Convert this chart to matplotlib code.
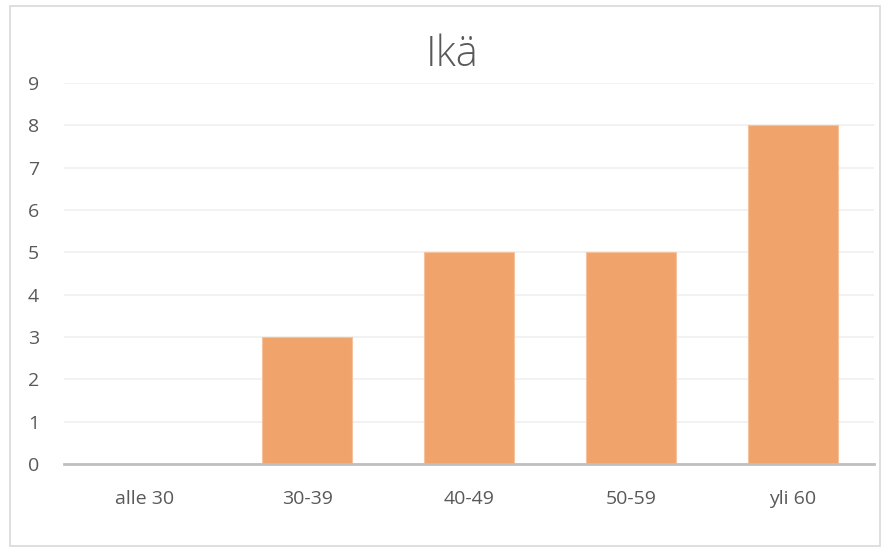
import matplotlib.pyplot as plt
from matplotlib.patches import Rectangle

# data
categories = ["alle 30", "30-39", "40-49", "50-59", "yli 60"]
counts = [0, 3, 5, 5, 8]
title = "Ikä"

plt.rcParams['font.family'] = ['Open Sans', 'DejaVu Sans']

fig = plt.figure(figsize=(8.88, 5.52), dpi=100)
fig.patches.append(Rectangle((10/888, 1 - 546/552), 870/888, 540/552,
                             transform=fig.transFigure, fill=False,
                             edgecolor="#d9d9d9", linewidth=1.2))
ax = fig.add_axes([64/888, 1 - 464/552, 810/888, 381/552])

x = range(len(categories))
ax.bar(x, counts, width=0.556, color="#f0a46c", edgecolor="#f5c29d", linewidth=0.8, zorder=3)

ax.set_xlim(-0.5, len(categories) - 0.5)
ax.set_ylim(0, 9)
ax.set_yticks(range(10))
ax.set_xticks(list(x))
ax.set_xticklabels(categories)
ax.grid(axis="y", color="#efefef", linewidth=1.1, zorder=0)
for s in ["top", "right", "left"]:
    ax.spines[s].set_visible(False)
ax.spines["bottom"].set_color("#bfbfbf")
ax.spines["bottom"].set_linewidth(2)
ax.spines["bottom"].set_zorder(4)
ax.tick_params(axis="both", length=0, labelsize=14, colors="#595959")
ax.tick_params(axis="x", pad=19)
ax.tick_params(axis="y", pad=18)

fig.text(452/888, 1 - 55/552, title, ha="center", va="center", fontsize=30,
         fontweight="light", color="#595959")

fig.savefig("out.png", dpi=100)
